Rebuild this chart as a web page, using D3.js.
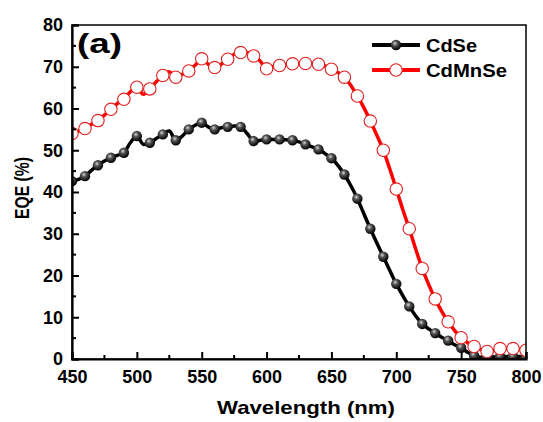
<!DOCTYPE html>
<html>
<head>
  <script src="https://d3js.org/d3.v7.min.js"></script>
  <style>
    body { margin: 0; background: #fff; }
    text { font-family: Arial, "Liberation Sans", sans-serif; font-weight: bold; fill: #000; }
  </style>
</head>
<body>
  <div id="chart"></div>
  <script>
    // data (every 5 nm, markers every 10 nm)
    const wavelength = d3.range(450, 801, 5);
    const cdse = [42.6, 43.0, 43.8, 45.2, 46.4, 47.4, 48.2, 48.8, 49.4, 51.8,
      53.4, 51.4, 51.8, 52.8, 53.8, 54.6, 52.4, 53.4, 55.0, 56.0,
      56.6, 55.6, 55.0, 55.4, 55.6, 55.8, 55.6, 54.0, 52.2, 52.4,
      52.6, 52.6, 52.6, 52.5, 52.4, 52.0, 51.4, 50.8, 50.2, 49.2,
      48.1, 46.4, 44.2, 41.5, 38.4, 34.8, 31.2, 27.8, 24.5, 21.2,
      18.0, 15.2, 12.6, 10.3, 8.4, 7.2, 6.2, 5.2, 4.4, 3.4,
      2.7, 1.6, 0.8, 0.4, 0.2, 0.4, 0.6, 0.6, 0.6, 0.6, 0.5];
    const cdmnse = [54.0, 54.6, 55.2, 56.2, 57.1, 58.4, 59.8, 61.2, 62.2, 64.0,
      65.1, 63.4, 64.7, 66.4, 67.9, 68.8, 67.5, 68.2, 69.0, 70.4,
      71.9, 70.6, 69.8, 70.6, 71.8, 73.0, 73.4, 73.4, 72.6, 71.4,
      69.5, 70.0, 70.3, 70.5, 70.7, 70.8, 70.8, 70.8, 70.6, 70.2,
      69.4, 68.6, 67.5, 65.5, 63.0, 60.2, 57.0, 53.6, 50.0, 45.5,
      40.7, 35.8, 31.2, 26.3, 21.7, 17.8, 14.4, 11.4, 8.9, 6.8,
      5.1, 3.9, 3.0, 2.3, 1.8, 2.0, 2.5, 2.5, 2.5, 2.3, 2.1];
    const xTicks = [450, 500, 550, 600, 650, 700, 750, 800];
    const yTicks = [0, 10, 20, 30, 40, 50, 60, 70, 80];
    const seriesNames = ["CdSe", "CdMnSe"];

    const width = 543, height = 422;
    const margin = { top: 25, right: 17, bottom: 63, left: 72 };

    const svg = d3.select("#chart").append("svg")
      .attr("width", width).attr("height", height);

    const x = d3.scaleLinear().domain([450, 800]).range([margin.left, width - margin.right]);
    const y = d3.scaleLinear().domain([0, 80]).range([height - margin.bottom, margin.top]);

    const defs = svg.append("defs");
    defs.append("clipPath").attr("id", "plot-clip")
      .append("rect")
      .attr("x", x(450)).attr("y", y(80))
      .attr("width", x(800) - x(450)).attr("height", y(0) - y(80));

    const grad = defs.append("radialGradient").attr("id", "ball")
      .attr("cx", "40%").attr("cy", "35%").attr("r", "65%");
    grad.append("stop").attr("offset", "0%").attr("stop-color", "#d8d8d8");
    grad.append("stop").attr("offset", "35%").attr("stop-color", "#555");
    grad.append("stop").attr("offset", "100%").attr("stop-color", "#000");

    const line = d3.line()
      .x((d) => x(d[0]))
      .y((d) => y(d[1]))
      .curve(d3.curveCatmullRom.alpha(0.5));

    const series = [
      { name: seriesNames[0], values: cdse, color: "#000" },
      { name: seriesNames[1], values: cdmnse, color: "#ff0000" }
    ];

    const plot = svg.append("g").attr("clip-path", "url(#plot-clip)");

    series.forEach((s) => {
      const pts = wavelength.map((w, i) => [w, s.values[i]]);
      plot.append("path")
        .attr("d", line(pts))
        .attr("fill", "none")
        .attr("stroke", s.color)
        .attr("stroke-width", 3.5);

      const marks = plot.selectAll(null)
        .data(pts.filter((d, i) => i % 2 === 0))
        .enter().append("circle")
        .attr("cx", (d) => x(d[0]))
        .attr("cy", (d) => y(d[1]));
      if (s.name === "CdSe") {
        marks.attr("r", 5.2).attr("fill", "url(#ball)");
      } else {
        marks.attr("r", 6.2).attr("fill", "#fff")
          .attr("stroke", "#e02020").attr("stroke-width", 1.1);
      }
    });

    // frame
    svg.append("rect")
      .attr("x", x(450)).attr("y", y(80))
      .attr("width", x(800) - x(450)).attr("height", y(0) - y(80))
      .attr("fill", "none").attr("stroke", "#000").attr("stroke-width", 1.5);

    // axes, ticks point inward
    const xAxis = svg.append("g")
      .attr("transform", `translate(0,${y(0)})`)
      .call(d3.axisBottom(x).tickValues(xTicks).tickSize(-7).tickPadding(11).tickFormat(d3.format("d")));
    xAxis.select(".domain").attr("stroke-width", 2.2);
    xAxis.selectAll(".tick line").attr("stroke-width", 2);
    xAxis.selectAll("text").attr("font-size", 18).attr("font-weight", "bold");
    xAxis.selectAll(".minor").data(d3.range(475, 800, 50)).enter()
      .append("line")
      .attr("x1", (d) => x(d)).attr("x2", (d) => x(d))
      .attr("y1", 0).attr("y2", -4)
      .attr("stroke", "#000").attr("stroke-width", 2);

    const yAxis = svg.append("g")
      .attr("transform", `translate(${x(450)},0)`)
      .call(d3.axisLeft(y).tickValues(yTicks).tickSize(-7).tickPadding(9));
    yAxis.select(".domain").attr("stroke-width", 2.2);
    yAxis.selectAll(".tick line").attr("stroke-width", 2);
    yAxis.selectAll("text").attr("font-size", 18).attr("font-weight", "bold");
    yAxis.selectAll(".minor").data(d3.range(5, 80, 10)).enter()
      .append("line")
      .attr("x1", 0).attr("x2", 4)
      .attr("y1", (d) => y(d)).attr("y2", (d) => y(d))
      .attr("stroke", "#000").attr("stroke-width", 2);
    svg.selectAll(".domain").attr("stroke", "#000");

    // axis titles
    svg.append("text")
      .attr("x", 306).attr("y", 414)
      .attr("text-anchor", "middle")
      .attr("font-size", 19)
      .attr("textLength", 178).attr("lengthAdjust", "spacingAndGlyphs")
      .text("Wavelength (nm)");

    svg.append("text")
      .attr("transform", "translate(29,188) rotate(-90)")
      .attr("text-anchor", "middle")
      .attr("font-size", 20)
      .attr("textLength", 62).attr("lengthAdjust", "spacingAndGlyphs")
      .text("EQE (%)");

    // panel label
    svg.append("text")
      .attr("x", 77).attr("y", 53)
      .attr("font-size", 28)
      .attr("textLength", 45).attr("lengthAdjust", "spacingAndGlyphs")
      .text("(a)");

    // legend
    const legend = svg.append("g");
    series.forEach((s, i) => {
      const ly = 45 + i * 25;
      legend.append("line")
        .attr("x1", 372).attr("x2", 420)
        .attr("y1", ly).attr("y2", ly)
        .attr("stroke", s.color).attr("stroke-width", 4);
      const c = legend.append("circle").attr("cx", 396).attr("cy", ly);
      if (i === 0) c.attr("r", 5.2).attr("fill", "url(#ball)");
      else c.attr("r", 6.2).attr("fill", "#fff").attr("stroke", "#e02020").attr("stroke-width", 1.1);
      legend.append("text")
        .attr("x", 426).attr("y", ly + 6.5)
        .attr("font-size", 18)
        .attr("textLength", i === 0 ? 51 : 81).attr("lengthAdjust", "spacingAndGlyphs")
        .text(s.name);
    });
  </script>
</body>
</html>
